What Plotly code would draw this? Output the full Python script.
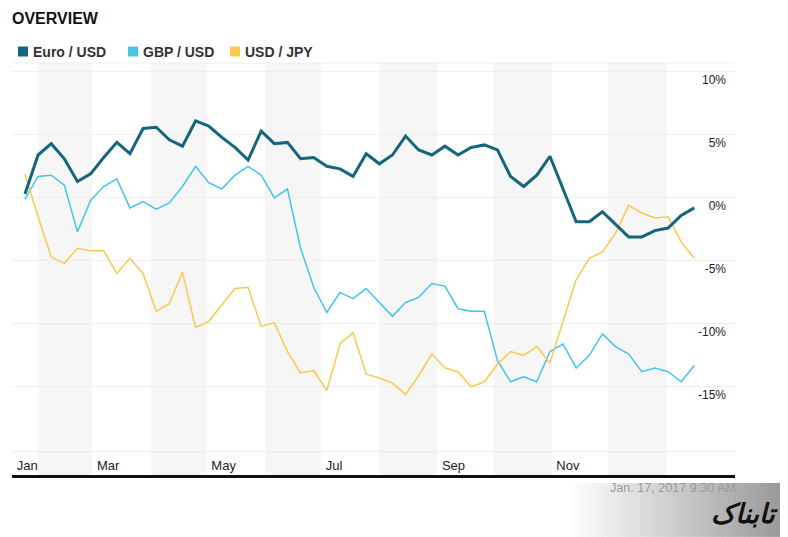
import pandas as pd
import plotly.graph_objects as go

# weekly % change since start
dates = pd.date_range("2016-01-25", periods=52, freq="7D")

euro_usd = [0.3, 3.4, 4.3, 3.1, 1.3, 1.9, 3.2, 4.4, 3.5, 5.5,
            5.6, 4.6, 4.1, 6.1, 5.7, 4.8, 4.0, 3.0, 5.3, 4.3,
            4.4, 3.1, 3.2, 2.5, 2.3, 1.7, 3.5, 2.7, 3.4, 4.9,
            3.8, 3.4, 4.1, 3.4, 4.0, 4.2, 3.8, 1.7, 0.9, 1.8,
            3.3, 0.7, -1.9, -1.9, -1.1, -2.1, -3.1, -3.1, -2.6, -2.4,
            -1.4, -0.8]
gbp_usd = [-0.1, 1.7, 1.8, 1.0, -2.7, -0.2, 0.9, 1.5, -0.8, -0.3,
           -0.9, -0.4, 0.9, 2.5, 1.2, 0.7, 1.8, 2.5, 1.8, 0.0,
           0.7, -4.0, -7.1, -9.1, -7.5, -8.0, -7.2, -8.3, -9.4, -8.3,
           -7.9, -6.8, -7.0, -8.8, -9.0, -9.0, -12.9, -14.6, -14.2, -14.6,
           -12.2, -11.6, -13.5, -12.5, -10.8, -11.8, -12.4, -13.8, -13.5, -13.8,
           -14.6, -13.3]
usd_jpy = [1.9, -1.5, -4.7, -5.2, -4.0, -4.2, -4.2, -6.0, -4.8, -6.0,
           -9.0, -8.4, -5.9, -10.3, -9.8, -8.5, -7.2, -7.1, -10.2, -9.9,
           -12.2, -13.9, -13.7, -15.3, -11.6, -10.7, -14.0, -14.3, -14.7, -15.6,
           -14.1, -12.4, -13.5, -13.8, -15.0, -14.6, -13.2, -12.2, -12.5, -11.8,
           -13.1, -9.8, -6.5, -4.8, -4.3, -2.8, -0.6, -1.2, -1.6, -1.5,
           -3.5, -4.8]

series_names = ["Euro / USD", "GBP / USD", "USD / JPY"]
series_colors = ["#14657d", "#45c5ea", "#fcc84e"]
series_widths = [3, 1.5, 1.5]

y_ticks = [-15, -10, -5, 0, 5, 10]
y_tick_text = ["-15%", "-10%", "-5%", "0%", "5%", "10%"]
x_tick_dates = ["2016-01-18 06:00", "2016-03-01", "2016-05-01", "2016-07-01", "2016-09-01", "2016-11-01"]
x_tick_text = ["Jan", "Mar", "May", "Jul", "Sep", "Nov"]
shaded_months = [("2016-02-01", "2016-03-01"), ("2016-04-01", "2016-05-01"),
                 ("2016-06-01", "2016-07-01"), ("2016-08-01", "2016-09-01"),
                 ("2016-10-01", "2016-11-01"), ("2016-12-01", "2017-01-01")]
stamp = "Jan. 17, 2017 9:30 AM"

# the page body has an 8px margin, so the figure is drawn 8px smaller
OFF = 8
W, H = 788 - OFF, 537 - OFF
L, R, T, B = 12, 735, 62.5, 451   # plot area in page pixels


def px(x):
    return (x - L) / (R - L)


def py(y):
    return (B - y) / (B - T)


fig = go.Figure()
order = [1, 2, 0]  # euro line drawn on top
all_vals = [euro_usd, gbp_usd, usd_jpy]
for i in order:
    fig.add_trace(go.Scatter(x=dates, y=all_vals[i], mode="lines", name=series_names[i],
                             line=dict(color=series_colors[i], width=series_widths[i]),
                             showlegend=False))

shapes = []
for a, b in shaded_months:
    shapes.append(dict(type="rect", xref="x", yref="paper", x0=a, x1=b, y0=py(475), y1=1,
                       fillcolor="#f6f6f6", line_width=0, layer="below"))
shapes.append(dict(type="line", xref="paper", yref="paper", x0=0, x1=1, y0=1, y1=1,
                   line=dict(color="#eeeeee", width=1)))
shapes.append(dict(type="line", xref="paper", yref="paper", x0=0, x1=1, y0=py(476.5), y1=py(476.5),
                   line=dict(color="#111111", width=3)))

# logo gradient block
n = 40
x_start, x_end = 568, 788
for i in range(n):
    t = i / (n - 1)
    g = int(255 - (255 - 152) * t)
    x0 = x_start + (x_end - x_start) * i / n
    x1 = x_start + (x_end - x_start) * (i + 1) / n + 0.5
    shapes.append(dict(type="rect", xref="paper", yref="paper", x0=px(x0), x1=px(x1),
                       y0=py(537), y1=py(483), fillcolor=f"rgb({g},{g},{g})", line_width=0, layer="below"))

annotations = []
# legend
leg_x = [18, 128, 230]
for name, col, x in zip(series_names, series_colors, leg_x):
    shapes.append(dict(type="rect", xref="paper", yref="paper", x0=px(x), x1=px(x + 10),
                       y0=py(56), y1=py(46), fillcolor=col, line_width=0))
    annotations.append(dict(xref="paper", yref="paper", x=px(x + 13), y=py(51), text=f"<b>{name}</b>",
                            showarrow=False, xanchor="left", yanchor="middle",
                            font=dict(family="Liberation Sans, Arial", size=14, color="#333333")))

annotations.append(dict(xref="paper", yref="paper", x=px(738), y=py(488), text=stamp, showarrow=False,
                        xanchor="right", yanchor="middle",
                        font=dict(family="Liberation Sans, Arial", size=12.6, color="#9a9a9a")))
annotations.append(dict(xref="paper", yref="paper", x=px(780), y=py(514), text="<b><i>تابناک</i></b>",
                        showarrow=False, xanchor="right", yanchor="middle",
                        font=dict(family="DejaVu Sans", size=27, color="#111111")))

fig.update_layout(
    width=W, height=H,
    margin=dict(l=L - OFF, r=788 - R, t=T - OFF, b=537 - B, pad=0),
    paper_bgcolor="white", plot_bgcolor="rgba(0,0,0,0)",
    title=dict(text="<b>OVERVIEW</b>", x=(12 - OFF) / W, xanchor="left", y=1 - (18 - OFF) / H,
               yanchor="middle", font=dict(family="Liberation Sans, Arial", size=16, color="#111111")),
    shapes=shapes, annotations=annotations,
    hovermode=False,
    font=dict(family="Liberation Sans, Arial", color="#222222"),
)
fig.update_xaxes(
    type="date", range=["2016-01-18 02:00", "2017-02-06 17:00"],
    tickvals=x_tick_dates, ticktext=x_tick_text, ticklabelposition="outside right",
    ticklabelshift=4, ticklabelstandoff=2,
    showgrid=False, zeroline=False, showline=True, linecolor="#eeeeee", linewidth=1,
    ticks="", tickfont=dict(size=13, color="#222222"),
)
fig.update_yaxes(
    range=[-20.09, 10.7], side="right", tickvals=y_ticks, ticktext=y_tick_text,
    ticklabelposition="inside bottom", ticklabelstandoff=6,
    showgrid=True, gridcolor="#efefef", gridwidth=1,
    zeroline=False, ticks="", tickfont=dict(size=12, color="#222222"),
)

fig.write_html("out.html")
